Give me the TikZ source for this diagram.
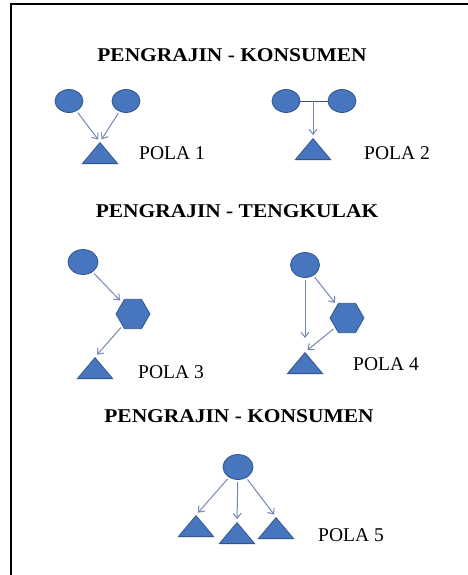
\documentclass[tikz,border=0pt]{standalone}
\usepackage{fontspec}
\setmainfont{Liberation Serif}
\newfontfamily\headfont[FakeStretch=1.1]{Liberation Serif}
\usetikzlibrary{shapes.geometric,arrows.meta}
\definecolor{shapefill}{RGB}{72,118,190}
\definecolor{shapeline}{RGB}{50,85,140}
\definecolor{arrowline}{RGB}{115,135,180}
\tikzset{
  maker/.style={ellipse, fill=shapefill, draw=shapeline, line width=0.8pt,
    minimum width=28pt, minimum height=23pt, inner sep=0pt},
  broker/.style={regular polygon, regular polygon sides=6, fill=shapefill,
    draw=shapeline, line width=0.8pt, minimum size=34pt, inner sep=0pt},
  buyer/.style={isosceles triangle, isosceles triangle apex angle=80,
    shape border rotate=90, fill=shapefill, draw=shapeline, line width=0.8pt,
    minimum width=35pt, minimum height=21pt, inner sep=0pt, anchor=apex},
  flow/.style={draw=arrowline, line width=1pt,
    -{Straight Barb[length=5pt,width=8pt]}, shorten <=2pt, shorten >=3pt},
  link/.style={draw=shapeline, line width=0.8pt},
  heading/.style={font=\headfont\bfseries\fontsize{19.5}{22}\selectfont},
  pola/.style={font=\fontsize{19.5}{22}\selectfont}
}
\begin{document}
\begin{tikzpicture}[x=1pt,y=-1pt]
            \useasboundingbox (0,0) rectangle (468,575);
            \draw[line width=2.5pt] (11,575) -- (11,4) -- (468,4);
            \node[heading] (h1) at (232,55) {PENGRAJIN - KONSUMEN};
            \node[maker] (a1) at (69,101) {};
            \node[maker] (b1) at (126,101) {};
            \node[buyer] (t1) at (100,142) {};
            \node[pola] (l1) at (172,153) {POLA 1};
            \draw[flow] (a1) -- (t1.apex);
            \draw[flow] (b1) -- (t1.apex);
            \node[maker] (a2) at (286,101) {};
            \node[maker] (b2) at (342,101) {};
            \coordinate (m2) at (313,101);
            \node[buyer] (t2) at (313,138) {};
            \node[pola] (l2) at (397,153) {POLA 2};
            \draw[link] (a2) -- (b2);
            \draw[flow, shorten <=0pt] (m2) -- (t2.apex);
            \node[heading] (h2) at (237,211) {PENGRAJIN - TENGKULAK};
            \node[maker, minimum width=30pt, minimum height=25pt] (a3) at (83,262) {};
            \node[broker] (k3) at (133,314) {};
            \node[buyer] (t3) at (95,357) {};
            \node[pola] (l3) at (171,372) {POLA 3};
            \draw[flow] (a3) -- (k3);
            \draw[flow] (k3) -- (t3.apex);
            \node[maker, minimum width=29pt, minimum height=25pt] (a4) at (305,265) {};
            \node[broker] (k4) at (347,318) {};
            \node[buyer] (t4) at (305,352) {};
            \node[pola] (l4) at (386,364) {POLA 4};
            \draw[flow, shorten >=14pt] (a4) -- (t4.apex);
            \draw[flow] (a4) -- (k4);
            \draw[flow] (k4) -- (t4.apex);
            \node[heading] (h3) at (239,416) {PENGRAJIN - KONSUMEN};
            \node[maker, minimum width=30pt, minimum height=25pt] (a5) at (238,467) {};
            \node[buyer] (t5) at (196,515) {};
            \node[buyer] (u5) at (237,522) {};
            \node[buyer] (v5) at (276,517) {};
            \node[pola] (l5) at (351,535) {POLA 5};
            \draw[flow] (a5) -- (t5.apex);
            \draw[flow] (a5) -- (u5.apex);
            \draw[flow] (a5) -- (v5.apex);
            \end{tikzpicture}
\end{document}
